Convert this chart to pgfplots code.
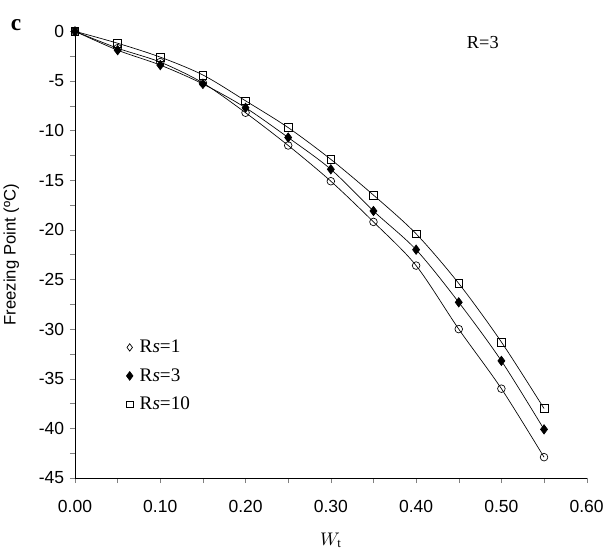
\documentclass[border=0pt]{standalone}
\usepackage{fontspec}
\setmainfont{Liberation Serif}
\setsansfont{Liberation Sans}
\usepackage{pgfplots}
\pgfplotsset{compat=1.18}
\begin{document}
\begin{tikzpicture}
\path[use as bounding box] (-45pt,-44.4pt) rectangle (320.4pt,286.8pt);
\begin{axis}[
    scale only axis,
    width=307pt, height=268pt,
    xmin=0, xmax=0.6, ymin=-45, ymax=0,
    axis x line*=bottom, axis y line*=left,
    tick align=outside,
    major tick length=3pt, minor tick length=3pt,
    xtick={0,0.1,...,0.6}, minor x tick num=1,
    ytick={0,-5,...,-45}, minor y tick num=1,
    xticklabel style={yshift=-7pt, /pgf/number format/fixed, /pgf/number format/fixed zerofill, /pgf/number format/precision=2},
    /pgf/number format/assume math mode=true,
    tick label style={font=\sffamily\fontsize{10.5}{12}\selectfont},
    xlabel={$W_\mathrm{t}$},
    xlabel style={font=\fontsize{11}{13}\selectfont, yshift=-5pt},
    ylabel={\sffamily Freezing Point (ºC)},
    ylabel style={yshift=5pt},
    clip=false,
    legend style={draw=none, fill=none, at={(axis description cs:0.09,0.325)}, anchor=north west,
        font=\fontsize{11.5}{13}\selectfont, row sep=4pt,
        /tikz/every even column/.append style={column sep=2pt}},
    legend cell align=left,
]
\addlegendimage{only marks, mark=diamond, mark size=2.2pt, black}
\addlegendentry{\hspace{2pt}R\textit{s}=1}
\addlegendimage{only marks, mark=diamond*, mark size=2.6pt, black}
\addlegendentry{\hspace{2pt}R\textit{s}=3}
\addlegendimage{only marks, mark=square, mark size=2pt, black}
\addlegendentry{\hspace{2pt}R\textit{s}=10}
\addplot[forget plot, black, thin, smooth, mark=o, mark size=2.3pt, mark options={fill=white}] coordinates {
    (0,0) (0.05,-1.7) (0.10,-3.1) (0.15,-5.2) (0.20,-8.2) (0.25,-11.5) (0.30,-15.1)
    (0.35,-19.2) (0.40,-23.6) (0.45,-30.0) (0.50,-36.0) (0.55,-42.9)
};
\addplot[forget plot, black, thin, smooth, mark=diamond*, mark size=2.8pt] coordinates {
    (0,0) (0.05,-1.9) (0.10,-3.4) (0.15,-5.3) (0.20,-7.7) (0.25,-10.7) (0.30,-13.9)
    (0.35,-18.1) (0.40,-22.0) (0.45,-27.3) (0.50,-33.2) (0.55,-40.1)
};
\addplot[forget plot, black, thin, smooth, mark=square, mark size=2.3pt, mark options={fill=white}] coordinates {
    (0,0) (0.05,-1.2) (0.10,-2.6) (0.15,-4.4) (0.20,-7.0) (0.25,-9.7) (0.30,-12.9)
    (0.35,-16.5) (0.40,-20.4) (0.45,-25.4) (0.50,-31.3) (0.55,-38.0)
};
\node[font=\bfseries\fontsize{14}{16}\selectfont] at (axis description cs:-0.115,1.015) {c};
\node[font=\fontsize{11}{13}\selectfont] at (axis description cs:0.797,0.975) {R=3};
\end{axis}
\end{tikzpicture}
\end{document}
